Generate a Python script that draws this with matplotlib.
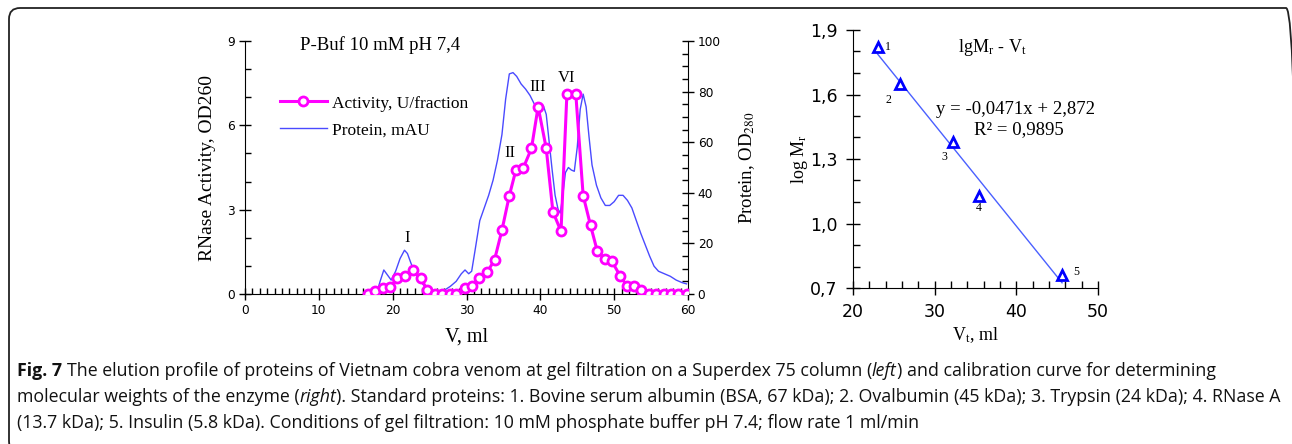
import numpy as np
import matplotlib
matplotlib.use('Agg')
import matplotlib.pyplot as plt
from matplotlib.patches import FancyBboxPatch
from matplotlib.ticker import MultipleLocator
from matplotlib.transforms import IdentityTransform

# elution profile: activity per fraction
act_v = [16.6, 17.6, 18.7, 19.7, 20.6, 21.7, 22.7, 23.8, 24.7, 25.7, 26.7, 27.7, 28.6, 29.8,
         30.7, 31.7, 32.8, 33.8, 34.8, 35.8, 36.7, 37.7, 38.8, 39.7, 40.8, 41.7, 42.8, 43.6,
         44.8, 45.8, 46.8, 47.7, 48.8, 49.7, 50.8, 51.7, 52.7, 53.7, 54.7, 55.7, 56.7, 57.7,
         58.7, 59.8]
act = [0, 0.12, 0.2, 0.24, 0.56, 0.65, 0.85, 0.56, 0.14, 0, 0, 0, 0, 0.2,
       0.27, 0.57, 0.77, 1.22, 2.27, 3.5, 4.42, 4.49, 5.18, 6.66, 5.18, 2.93, 2.23, 7.13,
       7.13, 3.5, 2.44, 1.54, 1.23, 1.16, 0.65, 0.3, 0.3, 0.14, 0, 0, 0, 0,
       0, 0]

# protein trace (right axis)
prot_v = [17.8, 18.3, 18.8, 19.3, 19.8, 20.4, 21.0, 21.6, 22.0, 22.5, 23.0, 23.6, 24.2, 24.8,
          25.5, 26.2, 27.0, 27.8, 28.6, 29.3, 29.8, 30.3, 30.7, 31.2, 31.8, 32.4, 33.0, 33.6,
          34.2, 34.8, 35.3, 35.8, 36.3, 36.8, 37.4, 38.0, 38.6, 39.2, 39.6, 40.0, 40.4, 40.8,
          41.2, 41.6, 42.0, 42.4, 42.7, 43.0, 43.4, 43.8, 44.2, 44.6, 45.0, 45.4, 45.8, 46.2,
          46.6, 47.0, 47.6, 48.2, 48.8, 49.4, 50.0, 50.6, 51.2, 51.8, 52.4, 53.0, 53.6, 54.2,
          54.8, 55.4, 56.0, 56.8, 57.6, 58.4, 59.2, 59.8]
prot = [0, 5, 9.5, 7.5, 5.5, 9, 14, 17.3, 16, 12, 8.5, 5.5, 3.5, 2,
        0.8, 0.5, 1.5, 3, 5, 8, 9.5, 8, 9, 18, 29, 34, 39, 45,
        53, 63, 77, 87, 87.5, 86, 83, 81, 78.5, 75, 73.5, 74.5, 74.5, 71,
        60, 49, 39, 33.5, 32, 38, 48, 50, 49, 48.5, 58, 73, 79, 74,
        62, 51, 43, 38, 35, 35, 36.5, 39, 39, 37, 34, 29, 24, 19.5,
        15, 11, 9, 8, 7, 5.5, 4.5, 4]

peak_names = ['I', 'II', 'III', 'VI']
peak_x = [22.0, 35.9, 39.7, 43.6]
peak_y = [2.0, 5.03, 7.35, 7.7]

# calibration standards
std_vt = [23.0, 25.8, 32.2, 35.4, 45.6]
std_logm = [1.82, 1.65, 1.38, 1.13, 0.76]
std_names = ['1', '2', '3', '4', '5']
std_lab_x = [24.3, 24.3, 31.2, 35.4, 47.3]
std_lab_y = [1.82, 1.575, 1.31, 1.07, 0.776]
fit_slope, fit_icpt = -0.0471, 2.872

caption_lines = [
    [('Fig. 7', 'bold'), (' The elution profile of proteins of Vietnam cobra venom at gel filtration on a Superdex 75 column (', 'normal'),
     ('left', 'italic'), (') and calibration curve for determining', 'normal')],
    [('molecular weights of the enzyme (', 'normal'), ('right', 'italic'),
     ('). Standard proteins: 1. Bovine serum albumin (BSA, 67 kDa); 2. Ovalbumin (45 kDa); 3. Trypsin (24 kDa); 4. RNase A', 'normal')],
    [('(13.7 kDa); 5. Insulin (5.8 kDa). Conditions of gel filtration: 10 mM phosphate buffer pH 7.4; flow rate 1 ml/min', 'normal')],
]

serif = ['Liberation Serif', 'DejaVu Serif']
plt.rcParams['font.family'] = serif
plt.rcParams['mathtext.fontset'] = 'stix'

W, H = 1292, 444
fig = plt.figure(figsize=(W / 100, H / 100), dpi=100)

# outer rounded frame
frame = FancyBboxPatch((9, -8), 1288, 444 - 8 + 8, boxstyle='round,pad=0,rounding_size=11',
                       transform=IdentityTransform(), fill=False, ec='#222222', lw=1.3)
fig.patches.append(frame)

# ---------- left: elution profile ----------
ax = fig.add_axes([245 / W, 1 - 294 / H, 443 / W, 253 / H])
ax2 = ax.twinx()
ax.plot(act_v, act, color='#ff00ff', lw=2.2, marker='o', ms=6.5, mfc='white', mec='#ff00ff',
        mew=2, label='Activity, U/fraction', zorder=3)
ax2.plot(prot_v, prot, color='#4a4aff', lw=1.0)
ax.plot([], [], color='#4a4aff', lw=1.0, label='Protein, mAU')
ax.set_zorder(ax2.get_zorder() + 1)
ax.patch.set_visible(False)

ax.set_xlim(0, 60)
ax.set_ylim(0, 9)
ax2.set_ylim(0, 100)
ax.xaxis.set_major_locator(MultipleLocator(10))
ax.xaxis.set_minor_locator(MultipleLocator(1))
ax.yaxis.set_major_locator(MultipleLocator(3))
ax.yaxis.set_minor_locator(MultipleLocator(1))
ax2.yaxis.set_major_locator(MultipleLocator(20))
ax2.yaxis.set_minor_locator(MultipleLocator(5))
for a in (ax, ax2):
    a.spines['top'].set_visible(False)
    a.tick_params(which='major', direction='inout', length=8, width=1, labelsize=8.7, pad=3)
    a.tick_params(which='minor', direction='in', length=4, width=1)
    for lab in a.get_xticklabels() + a.get_yticklabels():
        lab.set_fontfamily('DejaVu Sans')
ax.spines['right'].set_visible(False)
ax2.spines['left'].set_visible(False)
ax2.spines['bottom'].set_visible(False)

ax.set_xlabel('V, ml', fontsize=14.5, labelpad=8)
ax.set_ylabel('RNase Activity, OD260', fontsize=14, labelpad=8)
ax2.set_ylabel('Protein, OD$_{280}$', fontsize=13.5, labelpad=12)
ax.text(7.4, 8.85, 'P-Buf 10 mM pH 7,4', fontsize=13.5, va='center', ha='left')
for nm, px, py in zip(peak_names, peak_x, peak_y):
    ax.text(px, py, nm, fontsize=12, ha='center', va='center')
ax.legend(loc='upper left', bbox_to_anchor=(0.079, 0.785), frameon=False, fontsize=12.5,
          handlelength=2.7, handletextpad=0.3, labelspacing=0.62, borderpad=0, borderaxespad=0)

# ---------- right: calibration ----------
bx = fig.add_axes([853 / W, 1 - 288 / H, 245 / W, 258 / H])
xs = np.array([std_vt[0], std_vt[-1]])
bx.plot(xs, fit_slope * xs + fit_icpt, color='#4a60ff', lw=1.0)
bx.plot(std_vt, std_logm, ls='none', marker='^', ms=6.5, mfc='white', mec='#0000ff', mew=2)
for nm, lx, ly in zip(std_names, std_lab_x, std_lab_y):
    bx.text(lx, ly, nm, fontsize=8.5, ha='center', va='center')
bx.set_xlim(20, 50)
bx.set_ylim(0.7, 1.9)
bx.xaxis.set_minor_locator(MultipleLocator(2))
bx.yaxis.set_minor_locator(MultipleLocator(0.1))
bx.spines['top'].set_visible(False)
bx.spines['right'].set_visible(False)
bx.tick_params(which='major', direction='inout', length=10, width=1, labelsize=12.5, pad=6)
bx.tick_params(which='minor', direction='in', length=5, width=1)
bx.set_yticks([0.7, 1.0, 1.3, 1.6, 1.9])
bx.set_yticklabels(['0,7', '1,0', '1,3', '1,6', '1,9'])
bx.set_xticks([20, 30, 40, 50])
bx.set_xticklabels(['20', '30', '40', '50'])
for lab in bx.get_xticklabels() + bx.get_yticklabels():
    lab.set_fontfamily('DejaVu Sans')
bx.set_xlabel(r'V$_\mathregular{t}$, ml', fontsize=13, labelpad=3)
bx.set_ylabel(r'log M$_\mathregular{r}$', fontsize=13, labelpad=0)
bx.text(37.1, 1.82, r'lgM$_\mathregular{r}$ - V$_\mathregular{t}$', fontsize=13, ha='center', va='center')
bx.text(30.2, 1.528, 'y = -0,0471x + 2,872', fontsize=13.5, ha='left', va='center', clip_on=False)
bx.text(34.8, 1.435, 'R² = 0,9895', fontsize=13.5, ha='left', va='center', clip_on=False)

# ---------- caption ----------
renderer = fig.canvas.get_renderer()
capfam = ['Open Sans', 'DejaVu Sans']
capsize = 12.8


def seg_width(s, weight, style):
    t = fig.text(0, 0, s, fontsize=capsize, family=capfam, fontweight=weight, fontstyle=style)
    w = t.get_window_extent(renderer).width
    t.remove()
    return w


space_w = seg_width('a a', 'normal', 'normal') - seg_width('aa', 'normal', 'normal')
line_y = [371, 397, 423]
for parts, yy in zip(caption_lines, line_y):
    xpix = 17
    for txt, kind in parts:
        weight = 'bold' if kind == 'bold' else 'normal'
        style = 'italic' if kind == 'italic' else 'normal'
        lead = len(txt) - len(txt.lstrip(' '))
        trail = len(txt) - len(txt.rstrip(' '))
        core = txt.strip(' ')
        xpix += lead * space_w
        t = fig.text(xpix / W, 1 - yy / H, core, fontsize=capsize, family=capfam,
                     fontweight=weight, fontstyle=style, va='center', ha='left', color='#111111')
        xpix += t.get_window_extent(renderer).width + trail * space_w

fig.savefig('out.png', dpi=100)
